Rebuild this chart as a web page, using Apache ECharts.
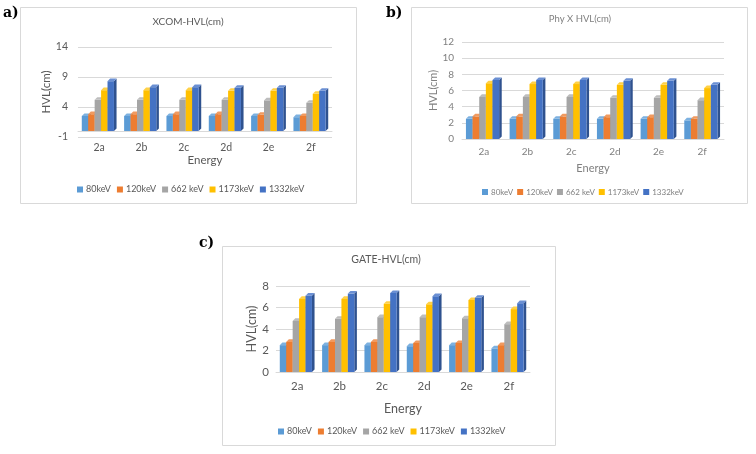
<!DOCTYPE html>
<html lang="en">
<head>
<meta charset="UTF-8">
<script src="https://cdn.jsdelivr.net/npm/echarts@6/dist/echarts.min.js"></script>
<style>
  html, body { margin: 0; padding: 0; background: #fff; }
  #chart { width: 756px; height: 454px; }
</style>
</head>
<body>
<div id="chart"></div>
<script>
// categories and series names
var categories = ['2a', '2b', '2c', '2d', '2e', '2f'];
var energies = ['80keV', '120keV', '662 keV', '1173keV', '1332keV'];

// a) XCOM-HVL(cm)
var xcom80   = [2.5, 2.5, 2.5, 2.5, 2.5, 2.3];
var xcom120  = [2.8, 2.8, 2.8, 2.8, 2.7, 2.5];
var xcom662  = [5.2, 5.2, 5.2, 5.2, 5.1, 4.7];
var xcom1173 = [6.8, 6.8, 6.8, 6.7, 6.7, 6.2];
var xcom1332 = [8.3, 7.3, 7.3, 7.2, 7.2, 6.7];

// b) Phy X HVL(cm)
var phyx80   = [2.5, 2.5, 2.5, 2.5, 2.5, 2.3];
var phyx120  = [2.8, 2.8, 2.8, 2.7, 2.7, 2.5];
var phyx662  = [5.2, 5.2, 5.2, 5.1, 5.1, 4.8];
var phyx1173 = [6.9, 6.8, 6.8, 6.7, 6.7, 6.3];
var phyx1332 = [7.3, 7.3, 7.3, 7.2, 7.2, 6.7];

// c) GATE-HVL(cm)
var gate80   = [2.5, 2.5, 2.5, 2.4, 2.5, 2.2];
var gate120  = [2.8, 2.8, 2.8, 2.7, 2.7, 2.5];
var gate662  = [4.75, 4.95, 5.1, 5.1, 5.0, 4.45];
var gate1173 = [6.8, 6.8, 6.35, 6.3, 6.7, 5.85];
var gate1332 = [7.1, 7.3, 7.35, 7.05, 6.9, 6.4];

// y axis ticks
var yTicksA = [-1, 4, 9, 14];
var yTicksB = [0, 2, 4, 6, 8, 10, 12];
var yTicksC = [0, 2, 4, 6, 8];

var colors = ['#5B9BD5', '#ED7D31', '#A5A5A5', '#FFC000', '#4472C4'];
var sideColors = ['#41719C', '#AE5A21', '#7C7C7C', '#BC8C00', '#2F528F'];
var topColors = ['#7DB1E0', '#F19A5F', '#BDBDBD', '#FFD147', '#6A8FD3'];
var FONT = 'Lato, "Open Sans", sans-serif';
var TXT = '#595959';

var panels = [
  { title: 'XCOM-HVL(cm)', data: [xcom80, xcom120, xcom662, xcom1173, xcom1332], ticks: yTicksA },
  { title: 'Phy X HVL(cm)', data: [phyx80, phyx120, phyx662, phyx1173, phyx1332], ticks: yTicksB },
  { title: 'GATE-HVL(cm)', data: [gate80, gate120, gate662, gate1173, gate1332], ticks: yTicksC }
];

// layout of each panel
var layout = [
  { grid: { left: 78, top: 47, width: 254, height: 90 }, catGap: 5, nameGap: 17, yMargin: 10, yNameGap: 21,
    legend: { left: 72, top: 180, font: 9, gap: 6 }, txt: TXT, font: 10.5 },
  { grid: { left: 462, top: 42, width: 262, height: 97 }, catGap: 8, nameGap: 24, yMargin: 8, yNameGap: 15,
    legend: { left: 477, top: 183, font: 8, gap: 4 }, txt: '#808080', font: 10 },
  { grid: { left: 276, top: 286, width: 254, height: 86 }, catGap: 8, nameGap: 30, yMargin: 7, yNameGap: 18,
    legend: { left: 273, top: 422, font: 9, gap: 6 }, txt: TXT, font: 11.5 }
];

function renderBar(k) {
  return function (params, api) {
    var ci = api.value(0);
    var top = api.coord([ci, api.value(1)]);
    var base = api.coord([ci, 0]);
    var band = api.size([1, 0])[0];
    var w = band * 0.152;
    var d = 2.6;
    var x0 = top[0] - (5 * w + d) / 2 + k * w;
    var yT = top[1], yB = base[1];
    return {
      type: 'group',
      children: [
        { type: 'polygon', shape: { points: [[x0 + w, yT], [x0 + w + d, yT - d], [x0 + w + d, yB - d], [x0 + w, yB]] },
          style: { fill: sideColors[k] } },
        { type: 'rect', shape: { x: x0, y: yT, width: w, height: yB - yT }, style: { fill: colors[k] } },
        { type: 'polygon', shape: { points: [[x0, yT], [x0 + d, yT - d], [x0 + w + d, yT - d], [x0 + w, yT]] },
          style: { fill: topColors[k] } }
      ]
    };
  };
}

var grids = [], xAxes = [], yAxes = [], legends = [], series = [];
panels.forEach(function (p, pi) {
  var L = layout[pi];
  grids.push(L.grid);
  xAxes.push({
    type: 'category', gridIndex: pi, data: categories,
    name: 'Energy', nameLocation: 'middle', nameGap: L.nameGap,
    nameTextStyle: { color: L.txt, fontFamily: FONT, fontSize: L.font + 1 },
    axisLine: { lineStyle: { color: '#d9d9d9' } },
    axisTick: { show: false },
    axisLabel: { color: L.txt, fontFamily: FONT, fontSize: L.font, margin: L.catGap }
  });
  var t = p.ticks;
  yAxes.push({
    type: 'value', gridIndex: pi, min: t[0], max: t[t.length - 1], interval: t[1] - t[0],
    name: 'HVL(cm)', nameLocation: 'middle', nameGap: L.yNameGap,
    nameTextStyle: { color: L.txt, fontFamily: FONT, fontSize: L.font + 1 },
    axisLine: { show: false }, axisTick: { show: false },
    axisLabel: { color: L.txt, fontFamily: FONT, fontSize: L.font, margin: L.yMargin },
    splitLine: { lineStyle: { color: '#d9d9d9' } }
  });
  legends.push({
    left: L.legend.left, top: L.legend.top, data: energies, icon: 'rect',
    itemWidth: 6, itemHeight: 6, itemGap: L.legend.gap, selectedMode: false,
    textStyle: { color: L.txt, fontFamily: FONT, fontSize: L.legend.font, padding: [0, 0, 0, -2] }
  });
  p.data.forEach(function (vals, k) {
    series.push({
      type: 'custom', name: energies[k], xAxisIndex: pi, yAxisIndex: pi,
      itemStyle: { color: colors[k] },
      renderItem: renderBar(k),
      encode: { x: 0, y: 1 },
      data: vals.map(function (v, i) { return [i, v]; })
    });
  });
});

var chart = echarts.init(document.getElementById('chart'));
chart.setOption({
  backgroundColor: '#fff',
  animation: false,
  graphic: [
    { type: 'rect', shape: { x: 20.5, y: 7.5, width: 336, height: 196 }, style: { fill: 'none', stroke: '#d9d9d9' } },
    { type: 'rect', shape: { x: 411.5, y: 7.5, width: 336, height: 196 }, style: { fill: 'none', stroke: '#d9d9d9' } },
    { type: 'rect', shape: { x: 222.5, y: 246.5, width: 333, height: 199 }, style: { fill: 'none', stroke: '#d9d9d9' } },
    { type: 'text', left: 3, top: 6, style: { text: 'a)', font: 'bold 14px "DejaVu Serif", serif', fill: '#000' } },
    { type: 'text', left: 386, top: 6, style: { text: 'b)', font: 'bold 14px "DejaVu Serif", serif', fill: '#000' } },
    { type: 'text', left: 199, top: 236, style: { text: 'c)', font: 'bold 14px "DejaVu Serif", serif', fill: '#000' } },
    { type: 'text', x: 188, y: 22, style: { text: panels[0].title, fill: TXT, font: '10px ' + FONT, align: 'center', verticalAlign: 'middle' } },
    { type: 'text', x: 580, y: 19, style: { text: panels[1].title, fill: '#808080', font: '9.5px ' + FONT, align: 'center', verticalAlign: 'middle' } },
    { type: 'text', x: 386, y: 260, style: { text: panels[2].title, fill: TXT, font: '10.5px ' + FONT, align: 'center', verticalAlign: 'middle' } }
  ],
  grid: grids,
  xAxis: xAxes,
  yAxis: yAxes,
  legend: legends,
  series: series
});
</script>
</body>
</html>
